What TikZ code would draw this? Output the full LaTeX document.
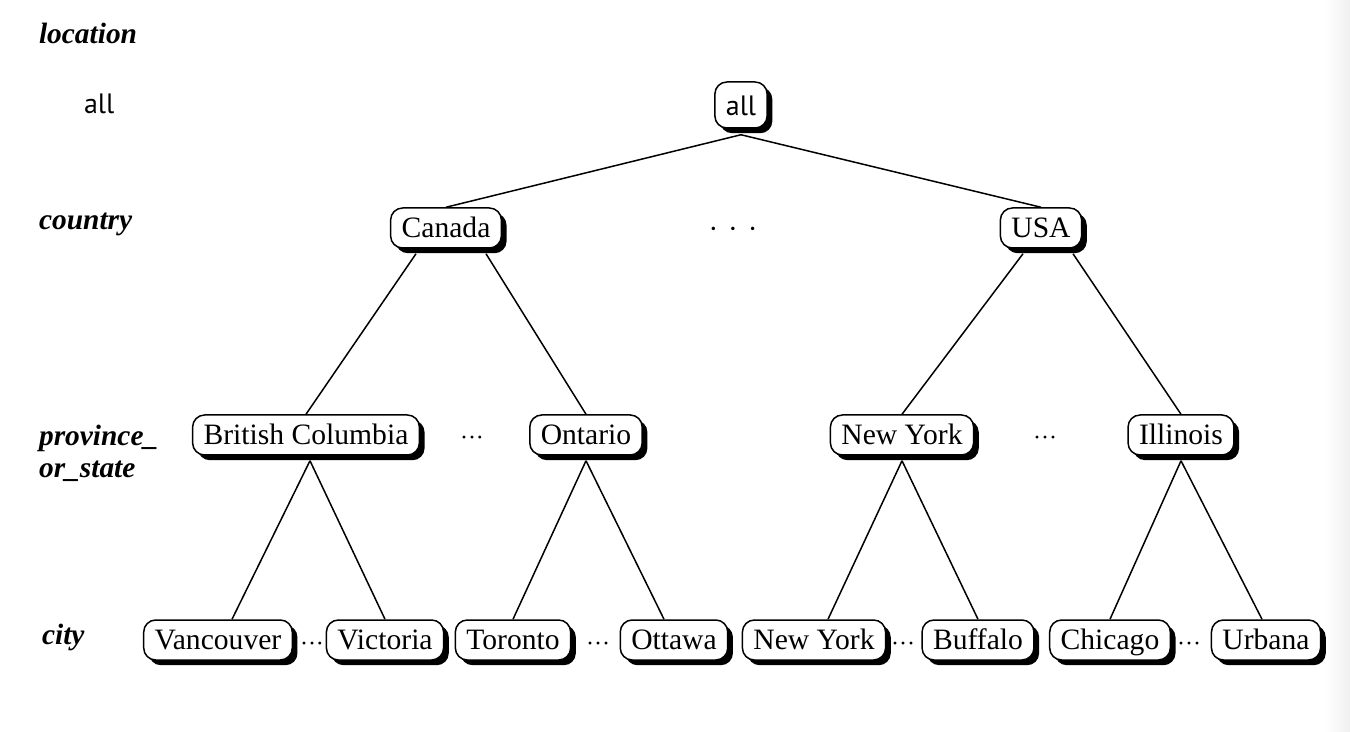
\documentclass[tikz,border=0pt]{standalone}
\usepackage{fontspec}
\setmainfont{Liberation Serif}
\newfontfamily\labsans{PT Sans}
\usetikzlibrary{shadows}
\begin{document}
\begin{tikzpicture}[x=0.5pt,y=-0.5pt,
  hbox/.style={draw=black, line width=0.75pt, rounded corners=6pt, fill=white,
    inner xsep=5.5pt, inner ysep=0pt, minimum height=20pt, text height=10.6pt, text depth=1pt,
    font=\fontsize{14.8}{17}\selectfont,
    drop shadow={shadow xshift=2.6pt, shadow yshift=-2.6pt, opacity=1, fill=black}},
  lvl/.style={anchor=west, font=\fontsize{14.7}{17}\selectfont\bfseries\itshape},
  cdot/.style={font=\fontsize{12}{14}\selectfont, inner sep=0pt, anchor=base},
  edge/.style={line width=0.75pt}]
\useasboundingbox (0,0) rectangle (1350,732);
\shade[left color=white, right color=black!6] (1325,0) rectangle (1350,732);

% level labels
\node[lvl] (llocation) at (32,33) {location};
\node[lvl] (lcountry) at (32,224) {country};
\node[lvl, align=left, anchor=north west] (lprov) at (32,418) {province\_\\[-1pt]or\_state};
\node[lvl] (lcity) at (35,637) {city};
\node[anchor=west, font=\labsans\fontsize{14}{16}\selectfont] (lall) at (77,104) {all};

% nodes
\node[hbox, font=\labsans\fontsize{14}{16}\selectfont, minimum height=23pt, text height=11pt, text depth=0pt] (all) at (741,105) {all};
\node[hbox] (canada) at (446,228) {Canada};
\node[hbox] (usa) at (1041,228) {USA};
\node[font=\fontsize{14.5}{17}\selectfont, inner sep=0pt, anchor=base] (dtop) at (733,239) {·\hspace{5pt}·\hspace{5pt}·};

\node[hbox] (bc) at (306,435) {British Columbia};
\node[hbox] (ont) at (586,435) {Ontario};
\node[hbox] (ny) at (902,435) {New York};
\node[hbox] (ill) at (1181,435) {Illinois};
\node[cdot] (d1) at (472,446) {···};
\node[cdot] (d2) at (1045,446) {···};

\node[hbox] (van) at (218,640) {Vancouver};
\node[hbox] (vic) at (385,640) {Victoria};
\node[hbox] (tor) at (513,640) {Toronto};
\node[hbox] (ott) at (674,640) {Ottawa};
\node[hbox] (nyc) at (814,640) {New York};
\node[hbox] (buf) at (978,640) {Buffalo};
\node[hbox] (chi) at (1110,640) {Chicago};
\node[hbox] (urb) at (1266,640) {Urbana};
\node[cdot] (d3) at (312,651) {···};
\node[cdot] (d4) at (598,651) {···};
\node[cdot] (d5) at (903,651) {···};
\node[cdot] (d6) at (1189,651) {···};

% edges
\draw[edge] ([yshift=-3pt]all.south) -- (canada.north);
\draw[edge] ([yshift=-3pt]all.south) -- (usa.north);
\draw[edge] ([xshift=-15pt,yshift=-2.5pt]canada.south) -- (bc.north);
\draw[edge] ([xshift=20pt,yshift=-2.5pt]canada.south) -- (ont.north);
\draw[edge] ([xshift=-9pt,yshift=-2.5pt]usa.south) -- (ny.north);
\draw[edge] ([xshift=16pt,yshift=-2.5pt]usa.south) -- (ill.north);
\draw[edge] ([xshift=2pt,yshift=-2.5pt]bc.south) -- ([xshift=7pt]van.north);
\draw[edge] ([xshift=2pt,yshift=-2.5pt]bc.south) -- (vic.north);
\draw[edge] ([yshift=-2.5pt]ont.south) -- (tor.north);
\draw[edge] ([yshift=-2.5pt]ont.south) -- ([xshift=-5pt]ott.north);
\draw[edge] ([yshift=-2.5pt]ny.south) -- ([xshift=7pt]nyc.north);
\draw[edge] ([yshift=-2.5pt]ny.south) -- (buf.north);
\draw[edge] ([yshift=-2.5pt]ill.south) -- (chi.north);
\draw[edge] ([yshift=-2.5pt]ill.south) -- ([xshift=-2pt]urb.north);
\end{tikzpicture}
\end{document}
